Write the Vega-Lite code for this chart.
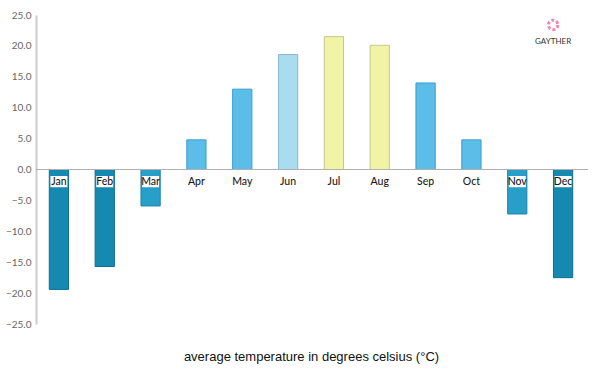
{
  "$schema": "https://vega.github.io/schema/vega-lite/v6.json",
  "width": 550,
  "height": 309,
  "autosize": {"type": "none"},
  "padding": {"left": 36, "top": 15, "right": 14, "bottom": 51},
  "background": "white",
  "config": {"view": {"stroke": null}, "font": "Lato"},
  "data": {"values": [
    {"month": "Jan", "temp": -19.4},
    {"month": "Feb", "temp": -15.7},
    {"month": "Mar", "temp": -5.9},
    {"month": "Apr", "temp": 4.8},
    {"month": "May", "temp": 13.0},
    {"month": "Jun", "temp": 18.6},
    {"month": "Jul", "temp": 21.5},
    {"month": "Aug", "temp": 20.1},
    {"month": "Sep", "temp": 14.0},
    {"month": "Oct", "temp": 4.8},
    {"month": "Nov", "temp": -7.2},
    {"month": "Dec", "temp": -17.5}
  ]},
  "encoding": {
    "x": {
      "field": "month", "type": "nominal", "sort": null,
      "scale": {"paddingInner": 0.58, "paddingOuter": 0.29},
      "axis": {"labels": false, "ticks": false, "domain": false,
        "title": "average temperature in degrees celsius (°C)",
        "titleFont": "Liberation Sans", "titleFontSize": 13, "titleFontWeight": "normal",
        "titleColor": "#111", "titlePadding": 26}
    }
  },
  "layer": [
    {
      "mark": {"type": "bar", "strokeWidth": 1},
      "encoding": {
        "y": {"field": "temp", "type": "quantitative",
          "scale": {"domain": [-25, 25], "nice": false, "zero": true},
          "axis": {"title": null, "format": ".1f", "tickCount": 10,
            "grid": false, "ticks": false, "domainColor": "#cccccc", "domainWidth": 2,
            "labelOverlap": false, "labelBound": false, "labelFlush": false,
            "labelColor": "#666666", "labelFontSize": 10, "labelPadding": 5}},
        "color": {"field": "month", "type": "nominal", "legend": null,
          "scale": {"domain": ["Jan","Feb","Mar","Apr","May","Jun","Jul","Aug","Sep","Oct","Nov","Dec"],
            "range": ["#1589b0","#1589b0","#289fc8","#5bbde8","#5bbde8","#aadcf0","#f1f3a5","#f1f3a5","#5bbde8","#5bbde8","#289fc8","#1589b0"]}},
        "stroke": {"field": "month", "type": "nominal", "legend": null,
          "scale": {"domain": ["Jan","Feb","Mar","Apr","May","Jun","Jul","Aug","Sep","Oct","Nov","Dec"],
            "range": ["#0d6f92","#0d6f92","#1c84aa","#3a9fce","#3a9fce","#86b8d0","#c6c78c","#c6c78c","#3a9fce","#3a9fce","#1c84aa","#0d6f92"]}}
      }
    },
    {
      "mark": {"type": "rule", "color": "#b0b0b0", "strokeWidth": 1.2},
      "encoding": {"y": {"datum": 0}, "x": {"value": 0}, "x2": {"value": 552}}
    },
    {
      "transform": [{"filter": "datum.temp < 0"}],
      "mark": {"type": "bar", "color": "white", "width": 17},
      "encoding": {"y": {"datum": -1.05}, "y2": {"datum": -2.87}}
    },
    {
      "mark": {"type": "text", "baseline": "middle", "fontSize": 10.5, "color": "#1a1a1a", "fontWeight": 500},
      "encoding": {"y": {"datum": -1.95}, "text": {"field": "month"}}
    },
    {
      "data": {"values": [{"logo": "GAYTHER"}]},
      "mark": {"type": "text", "fontSize": 8, "color": "#333333", "font": "Lato", "xOffset": -10},
      "encoding": {"x": {"datum": "Dec"}, "y": {"datum": 20.7}, "text": {"field": "logo"}}
    },
    {
      "data": {"values": [{"logo": "GAYTHER"}]},
      "mark": {"type": "point", "size": 90, "strokeWidth": 3, "color": "#e85a8c", "xOffset": -10, "strokeDash": [3, 2]},
      "encoding": {"x": {"datum": "Dec"}, "y": {"datum": 23.4}}
    }
  ]
}
